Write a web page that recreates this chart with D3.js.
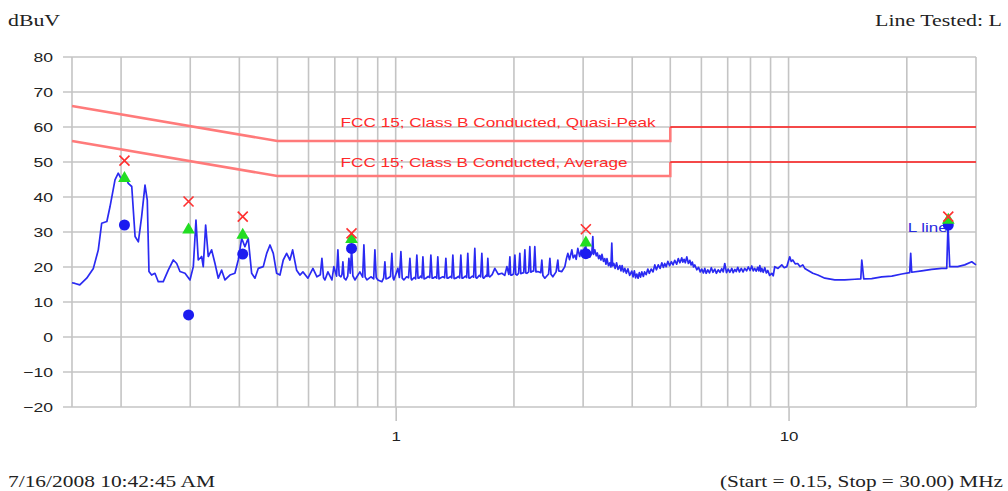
<!DOCTYPE html>
<html><head><meta charset="utf-8">
<script src="https://cdn.jsdelivr.net/npm/d3@7"></script>
<style>body{margin:0;background:#fff}svg{display:block}</style>
</head><body><svg id="chart" width="1008" height="491"></svg>
<script>
// ---- data : [frequency MHz, level dBuV] ----
const traceLow = [
[0.150,15.5],[0.1527,15.3],[0.157,14.9],[0.1635,16.8],[0.170,19.6],[0.175,24.9],[0.1785,32.5],[0.184,33],[0.1874,37.2],[0.193,44.9],[0.1967,46.8],[0.2007,44.9],[0.2046,46.3],[0.2086,43.9],[0.2129,43],[0.2171,28.7],[0.2213,27.2],[0.2256,34.4],[0.2301,43.4],[0.2332,39.1],[0.2355,18.7],[0.2392,17.7],[0.2439,18.2],[0.2487,15.8],[0.2561,15.8],[0.2637,19.1],[0.2716,22],[0.2771,21],[0.2824,18.7],[0.2909,18.2],[0.2995,16.3],[0.3054,20.1],[0.3102,33.4],[0.3144,22],[0.3207,23],[0.3237,20.1],[0.3283,32],[0.3334,23],[0.340,24.9],[0.3468,21],[0.3535,16.8],[0.3606,19.1],[0.3677,16.3],[0.3785,17.7],[0.3897,18.2],[0.3974,22],[0.4055,28.2],[0.4133,25.8],[0.4213,28.2],[0.4299,18.2],[0.4383,16.8],[0.4469,19.6],[0.4602,20.1],[0.4695,23.9],[0.4787,26.3],[0.488,23.9],[0.4977,18.2],[0.5075,17.7],[0.5174,22],[0.5277,23.9],[0.538,22],[0.5466,24.9],[0.5595,19.1],[0.5705,17.7]];
const traceMid = [
[0.5806,18.6],[0.5979,16.8],[0.6157,19.6],[0.6303,17.2],[0.643,17.8],[0.649,22.5],[0.655,17.0],[0.6605,16.3],[0.6722,18.6],[0.6882,16.3],[0.6962,20.1],[0.707,17.4],[0.7127,24.9],[0.718,17.6],[0.7254,17.2],[0.730,17.9],[0.7339,21.5],[0.739,16.9],[0.747,16.3],[0.755,17.4],[0.7603,22.5],[0.766,18.2],[0.7724,25.3],[0.778,17.5],[0.7875,16.3],[0.8108,18.6],[0.824,17.1],[0.830,26.3],[0.836,17.2],[0.8447,16.3],[0.8647,17.2],[0.879,16.6],[0.8853,24.9],[0.892,17.0],[0.901,16.3],[0.9224,15.8],[0.932,16.9],[0.9387,21.5],[0.945,16.6],[0.9554,16.8],[0.970,17.3],[0.9779,23.9],[0.985,16.8],[0.9895,16.3],[1.013,19.6],[1.022,17.0],[1.031,24.4],[1.039,16.8],[1.049,16.3],[1.066,17.2],[1.078,16.9],[1.087,22.5],[1.095,16.6],[1.099,16.3],[1.115,17.0],[1.124,16.6],[1.132,23.4],[1.140,16.8],[1.146,16.8],[1.158,17.4],[1.166,16.9],[1.173,22.9],[1.181,16.6],[1.193,16.8],[1.210,17.3],[1.221,17.0],[1.229,23.4],[1.238,16.8],[1.244,16.8],[1.262,17.2],[1.272,16.8],[1.280,22.9],[1.289,16.6],[1.296,16.8],[1.318,17.2],[1.332,16.9],[1.342,22.5],[1.351,16.8],[1.358,16.8],[1.380,17.3],[1.389,16.9],[1.398,23.4],[1.408,16.7],[1.423,16.8],[1.444,17.3],[1.455,16.9],[1.465,23.4],[1.475,16.8],[1.483,16.8],[1.505,17.4],[1.516,17.0],[1.526,23.9],[1.536,16.9],[1.545,16.8],[1.568,17.4],[1.579,17.1],[1.590,25.3],[1.600,17.0],[1.609,16.8],[1.633,17.6],[1.645,17.2],[1.657,23.9],[1.667,17.0],[1.676,16.8],[1.700,17.6],[1.708,17.3],[1.716,22.5],[1.726,17.4],[1.736,17.2],[1.760,17.8],[1.788,19.6],[1.825,17.9],[1.863,18.2],[1.895,17.6],[1.919,20.1],[1.940,17.9],[1.953,22.9],[1.962,17.7],[1.976,17.7],[1.995,18.0],[2.011,23.4],[2.022,17.9],[2.035,17.7],[2.055,18.2],[2.070,23.9],[2.082,18.1],[2.095,18.2],[2.118,18.4],[2.132,24.9],[2.144,18.3],[2.157,18.2],[2.180,18.6],[2.195,25.8],[2.208,18.5],[2.221,18.7],[2.245,18.9],[2.260,25.8],[2.275,18.6],[2.300,18.7],[2.340,18.4],[2.355,22],[2.370,17.6],[2.397,16.8],[2.45,18.0],[2.469,22.5],[2.485,17.9],[2.512,17.2],[2.56,18.6],[2.587,22],[2.60,18.9],[2.648,18.7]];
const traceHigh = [
[2.695,20.1],[2.72,22.4],[2.743,23.9],[2.77,22.1],[2.808,24.9],[2.83,22.6],[2.858,23.4],[2.88,22.2],[2.908,25.3],[2.94,23.0],[2.965,24.8],[2.995,23.2],[3.02,25.2],[3.048,26],[3.066,23.0],[3.084,24.4],[3.12,22.8],[3.157,23.9],[3.175,28.7],[3.19,23.6],[3.213,24.9],[3.24,23.2],[3.26,24.0],[3.285,22.4],[3.308,23.3],[3.33,22.0],[3.35,23.6],[3.38,21.6],[3.406,22.4],[3.43,20.8],[3.45,22.4],[3.48,20.4],[3.508,21.2],[3.53,20.0],[3.549,26.8],[3.565,20.3],[3.591,21.0],[3.62,19.6],[3.65,21.2],[3.68,19.3],[3.72,20.4],[3.745,18.9],[3.77,20.4],[3.80,18.6],[3.831,19.6],[3.865,18.2],[3.90,19.5],[3.94,17.6],[3.99,18.8],[4.02,17.2],[4.05,18.9],[4.08,16.9],[4.109,18.0],[4.14,16.8],[4.17,18.4],[4.20,17.1],[4.232,18.6],[4.27,17.3],[4.30,18.6],[4.34,17.8],[4.383,19.4],[4.42,18.2],[4.47,19.4],[4.52,18.6],[4.566,20.6],[4.61,19.2],[4.66,20.6],[4.71,19.6],[4.758,21.2],[4.80,19.9],[4.84,21.0],[4.88,20.1],[4.928,21.6],[4.98,20.4],[5.03,21.5],[5.08,20.6],[5.133,21.9],[5.19,20.8],[5.24,22.4],[5.29,21.2],[5.348,22.6],[5.38,21.4],[5.42,22.2],[5.46,21.2],[5.508,22.9],[5.56,21.0],[5.606,21.9],[5.65,20.6],[5.69,21.4],[5.73,20.0],[5.772,20.6],[5.84,19.2],[5.90,19.9],[5.96,18.6],[6.013,19.4],[6.07,18.3],[6.12,19.6],[6.17,18.2],[6.229,19.2],[6.29,18.3],[6.36,19.8],[6.42,18.5],[6.49,19.4],[6.55,18.2],[6.62,19.2],[6.69,18.5],[6.761,19.5],[6.82,18.6],[6.881,21.0],[6.95,18.4],[7.02,19.4],[7.09,18.5],[7.169,19.6],[7.23,18.4],[7.30,19.3],[7.36,18.7],[7.425,19.9],[7.50,18.6],[7.58,19.6],[7.66,18.6],[7.736,19.6],[7.82,18.9],[7.90,20.0],[7.98,19.0],[8.06,20.3],[8.13,18.9],[8.20,19.6],[8.27,18.8],[8.349,19.9],[8.40,18.9],[8.45,20.4],[8.50,18.7],[8.548,19.6],[8.62,18.5],[8.70,19.8],[8.78,18.3],[8.855,19.0],[8.95,17.6],[9.064,18.2],[9.14,17.5],[9.224,20.1],[9.40,19.6],[9.61,20.6],[9.75,19.8],[9.895,20.1],[10.07,22.9],[10.16,21.6],[10.25,22],[10.40,20.9],[10.55,21],[10.70,20.1],[10.87,20.6],[11.0,19.6],[11.19,19.1],[11.53,18.2],[11.87,17.7],[12.37,16.8],[13.11,16.3],[13.90,16.3],[14.74,16.5],[15.27,16.6],[15.36,22],[15.54,16.6],[16.28,16.7],[17.27,17.2],[18.31,17.4],[19.41,18],[20.34,18.4],[20.46,23.9],[20.58,18.5],[21.83,18.9],[23.14,19.3],[24.54,19.6],[25.27,19.6],[25.46,32],[25.72,20.1],[26.95,20.1],[28.08,20.6],[29.26,21.5],[30.0,20.6]];

const markerFreq   = [0.204, 0.297, 0.408, 0.772, 3.048, 25.5];
const quasiPeak    = [50.4, 38.7, 34.4, 29.6, 30.8, 34.4];   // red crosses
const peakLevel    = [45.3, 30.6, 29.1, 27.9, 26.9, 33.4];   // green triangles
const averageLevel = [32.0, 6.3, 23.7, 25.3, 23.8, 32.0];    // blue dots

const limitFreq  = [0.15, 0.5, 5, 5, 30];
const qpLimit    = [66, 56, 56, 60, 60];
const avLimit    = [56, 46, 46, 50, 50];
const limitNames = ["FCC 15; Class B Conducted, Quasi-Peak", "FCC 15; Class B Conducted, Average"];

const yTicks = [-20,-10,0,10,20,30,40,50,60,70,80];
const xTickLabels = [1, 10];
const xGrid = [0.2,0.3,0.4,0.5,0.6,0.7,0.8,0.9,1,2,3,4,5,6,7,8,9,10,20,30];

// ---- layout ----
const L = 72, R = 976, T = 57, B = 407;
const svg = d3.select("#chart");
const x = d3.scaleLog().domain([0.15, 30]).range([L, R]);
const y = d3.scaleLinear().domain([-20, 80]).range([B, T]);
const gridColor = "#c4c4c4";

// grid
svg.append("g").selectAll("line").data(yTicks).join("line")
  .attr("x1", L - 9).attr("x2", R).attr("y1", d => y(d)).attr("y2", d => y(d))
  .attr("stroke", gridColor).attr("stroke-width", 1.6);
svg.append("g").selectAll("line").data([0.15].concat(xGrid)).join("line")
  .attr("x1", d => x(d)).attr("x2", d => x(d)).attr("y1", T).attr("y2", B)
  .attr("stroke", gridColor).attr("stroke-width", 1.6);

// axes
const sx = 1.35;
const ya = svg.append("g").attr("transform", `translate(${L},0)`)
  .call(d3.axisLeft(y).tickValues(yTicks).tickSize(0).tickPadding(19));
ya.select(".domain").remove();
ya.selectAll("text").attr("font-family", "Liberation Sans, Arial, sans-serif")
  .attr("font-size", 13).attr("fill", "#222")
  .attr("x", -19 / sx).attr("transform", `scale(${sx},1)`);

const xa = svg.append("g").attr("transform", `translate(0,${B})`)
  .call(d3.axisBottom(x).tickValues(xTickLabels).tickFormat(d3.format("d")).tickSize(14).tickPadding(11));
xa.select(".domain").remove();
xa.selectAll("line").attr("stroke", gridColor).attr("stroke-width", 1.6);
xa.selectAll("text").attr("font-family", "Liberation Sans, Arial, sans-serif")
  .attr("font-size", 13).attr("fill", "#222").attr("transform", "scale(1.3,1)");

// limit lines
const line = d3.line().x(d => x(d[0])).y(d => y(d[1]));
[qpLimit, avLimit].forEach(lv => {
  const pts = limitFreq.map((f, i) => [f, lv[i]]);
  svg.append("path").attr("d", line(pts.slice(0, 4))).attr("fill", "none")
    .attr("stroke", "#ff7a7a").attr("stroke-width", 2.6);
  svg.append("path").attr("d", line(pts.slice(3))).attr("fill", "none")
    .attr("stroke", "#ff1a1a").attr("stroke-width", 1.6);
});
const labelFreq = 0.724, labelLevel = [61.4, 50.0], labelWidth = [315, 287];
limitNames.forEach((t, i) => {
  svg.append("text").attr("x", x(labelFreq)).attr("y", y(labelLevel[i]))
    .attr("dy", "0.36em").attr("font-family", "Liberation Sans, Arial, sans-serif")
    .attr("font-size", 13).attr("fill", "#ff2a2a")
    .attr("textLength", labelWidth[i]).attr("lengthAdjust", "spacingAndGlyphs").text(t);
});

// trace
const trace = traceLow.concat(traceMid, traceHigh);
svg.append("path").attr("d", line(trace))
  .attr("fill", "none").attr("stroke", "#2a2af2").attr("stroke-width", 1.7)
  .attr("stroke-linejoin", "round");

// label for trace
svg.append("text").attr("x", x(20.1)).attr("y", y(31.1)).attr("dy", "0.36em")
  .attr("font-family", "Liberation Sans, Arial, sans-serif").attr("font-size", 12)
  .attr("fill", "#2a2ae0").attr("textLength", 40).attr("lengthAdjust", "spacingAndGlyphs")
  .text("L line");

// markers
svg.append("g").selectAll("circle").data(markerFreq).join("circle")
  .attr("cx", d => x(d)).attr("cy", (d, i) => y(averageLevel[i])).attr("r", 5.5)
  .attr("fill", "#1c1cf0");
svg.append("g").selectAll("path").data(markerFreq).join("path")
  .attr("d", d3.symbol(d3.symbolTriangle, 70))
  .attr("transform", (d, i) => `translate(${x(d)},${y(peakLevel[i])})`)
  .attr("fill", "#22dd22");
svg.append("g").selectAll("path").data(markerFreq).join("path")
  .attr("d", "M-5,-5L5,5M-5,5L5,-5")
  .attr("transform", (d, i) => `translate(${x(d)},${y(quasiPeak[i])})`)
  .attr("stroke", "#ff3030").attr("stroke-width", 1.6).attr("fill", "none");

// titles
const serif = "Liberation Serif, Times New Roman, serif";
function txt(s, xx, yy, len) {
  svg.append("text").attr("x", xx).attr("y", yy).attr("font-family", serif)
    .attr("font-size", 16).attr("fill", "#222")
    .attr("textLength", len).attr("lengthAdjust", "spacingAndGlyphs").text(s);
}
txt("dBuV", 8, 26, 52);
txt("Line Tested: L", 875, 26, 127);
txt("7/16/2008 10:42:45 AM", 8, 487, 207);
txt("(Start = 0.15, Stop = 30.00) MHz", 720, 487, 283);
</script></body></html>
